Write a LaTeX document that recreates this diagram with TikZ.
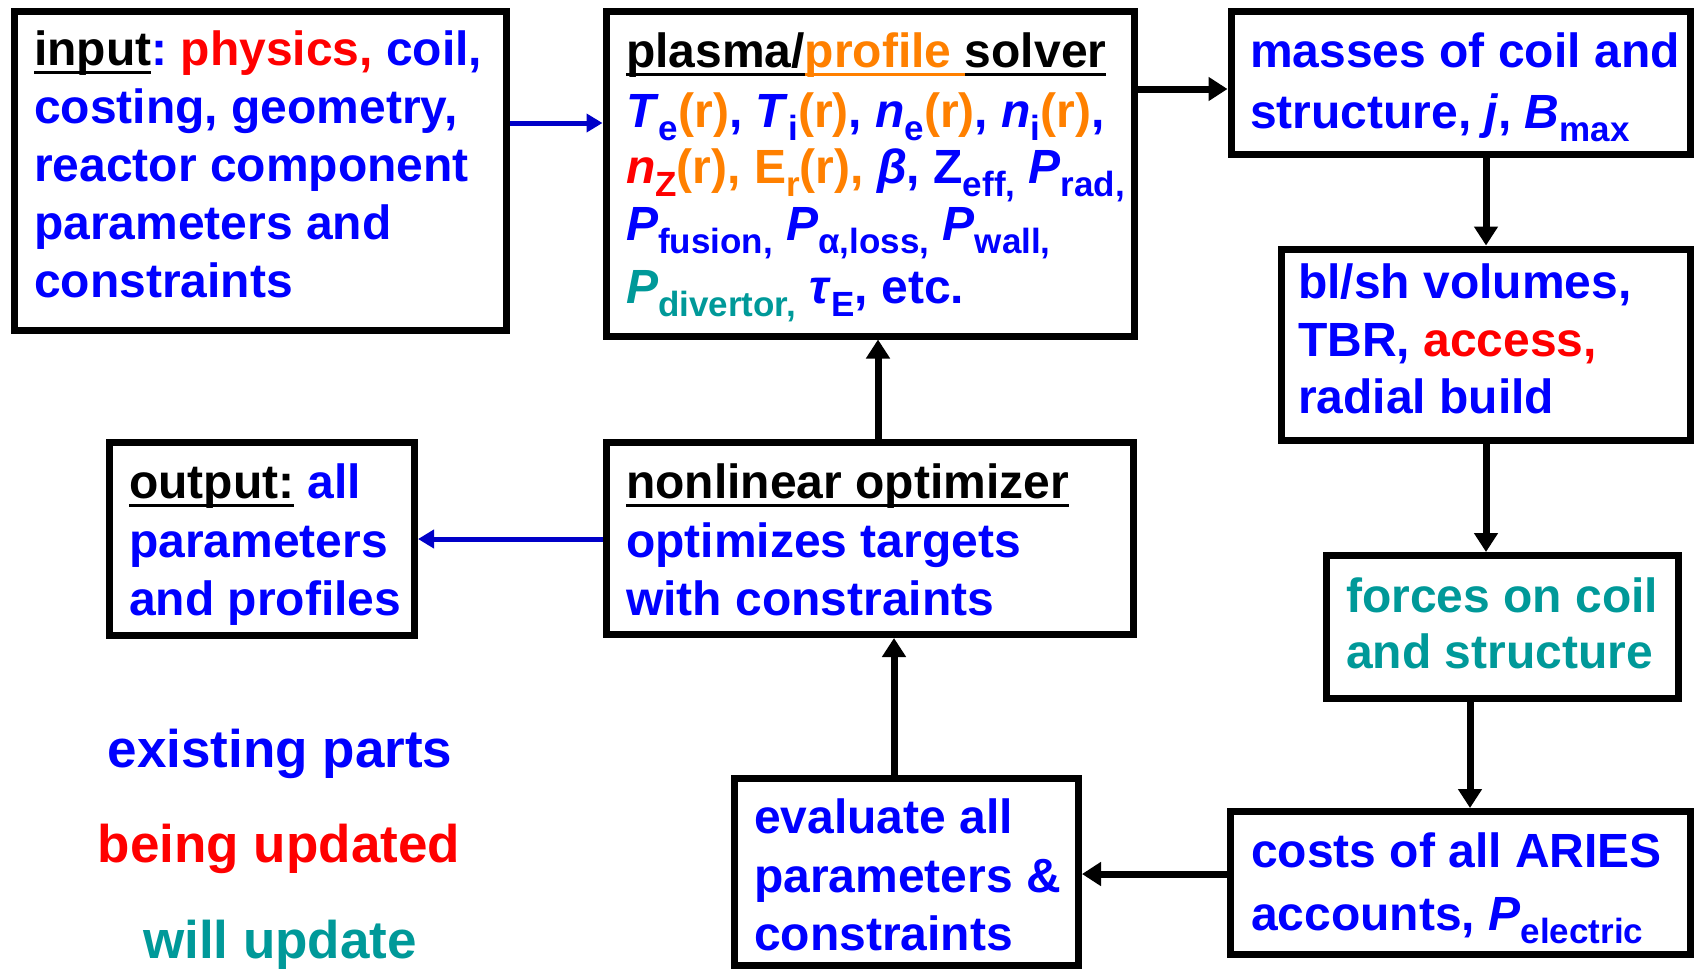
\documentclass[tikz,border=0pt]{standalone}
\usepackage{fontspec}
\setmainfont{Liberation Sans}
\usetikzlibrary{arrows.meta}
\definecolor{tblue}{RGB}{0,0,255}
\definecolor{tred}{RGB}{255,0,0}
\definecolor{torange}{RGB}{255,128,0}
\definecolor{tteal}{RGB}{0,153,153}
\definecolor{ablue}{RGB}{0,0,200}
\newcommand\sbs[1]{\raisebox{-13pt}{\fontsize{35}{35}\selectfont #1}}
\newcommand\ulin[1]{\setbox0\hbox{#1}\rlap{\rule[-9pt]{\wd0}{3.5pt}}\box0}
\tikzset{
  box/.style={draw=black, line width=7pt, inner sep=0pt},
  txt/.style={anchor=base west, inner sep=0pt, text=tblue, font=\fontsize{48}{58}\selectfont\bfseries},
  legend/.style={anchor=base, inner sep=0pt, font=\fontsize{53}{60}\selectfont\bfseries},
  karrow/.style={draw=black, line width=7pt, -{Triangle[length=19pt,width=23pt]}},
  barrow/.style={draw=ablue, line width=5pt, -{Triangle[length=16pt,width=18pt]}}
}
\begin{document}
\begin{tikzpicture}[x=1pt,y=-1pt]
\useasboundingbox (0,0) rectangle (1694,970);
% boxes
\node[box, minimum width=492pt, minimum height=319pt] (input) at (260,170.5) {};
\node[box, minimum width=528pt, minimum height=325pt] (plasma) at (870,173.5) {};
\node[box, minimum width=459.5pt, minimum height=143pt] (masses) at (1460.75,82.5) {};
\node[box, minimum width=409.5pt, minimum height=191pt] (blsh) at (1485.75,344.5) {};
\node[box, minimum width=352pt, minimum height=143pt] (forces) at (1502.5,627) {};
\node[box, minimum width=460pt, minimum height=143pt] (costs) at (1460.5,883) {};
\node[box, minimum width=344pt, minimum height=187pt] (evaluate) at (906.5,872) {};
\node[box, minimum width=527pt, minimum height=192pt] (nonlin) at (870,538.5) {};
\node[box, minimum width=305pt, minimum height=193pt] (output) at (262,539) {};
% input text
\node[txt] (in1) at (34,65) {\textcolor{black}{\ulin{input}}:~\textcolor{tred}{physics,} coil,};
\node[txt] (in2) at (34,123) {costing, geometry,};
\node[txt] (in3) at (34,181) {reactor component};
\node[txt] (in4) at (34,239) {parameters and};
\node[txt] (in5) at (34,297) {constraints};
% plasma text
\node[txt, text=black] (pl1) at (626,67) {\ulin{plasma/}\textcolor{torange}{\ulin{profile }}\ulin{solver}};
\node[txt] (pl2) at (626,127) {\textit{T}\sbs{e}\textcolor{torange}{(r)}, \textit{T}\sbs{i}\textcolor{torange}{(r)}, \textit{n}\sbs{e}\textcolor{torange}{(r)}, \textit{n}\sbs{i}\textcolor{torange}{(r)},};
\node[txt] (pl3) at (626,183) {\textcolor{tred}{\textit{n}\sbs{Z}}\textcolor{torange}{(r), E\sbs{r}(r),} \textit{β}, Z\sbs{eff,} \textit{P}\sbs{rad,}};
\node[txt] (pl4) at (626,240) {\textit{P}\sbs{fusion,} \textit{P}\sbs{α,loss,} \textit{P}\sbs{wall,}};
\node[txt] (pl5) at (626,303) {\textcolor{tteal}{\textit{P}\sbs{divertor,}} \textit{τ}\sbs{E}, etc.};
% masses text
\node[txt] (ma1) at (1250,67) {masses of coil and};
\node[txt] (ma2) at (1250,128) {structure, \textit{j}, \textit{B}\sbs{max}};
% bl/sh text
\node[txt] (bl1) at (1298,298) {bl/sh volumes,};
\node[txt] (bl2) at (1298,356) {TBR, \textcolor{tred}{access,}};
\node[txt] (bl3) at (1298,413) {radial build};
% forces text
\node[txt, text=tteal] (fo1) at (1346,612) {forces on coil};
\node[txt, text=tteal] (fo2) at (1346,668) {and structure};
% costs text
\node[txt] (co1) at (1251,867) {costs of all ARIES};
\node[txt] (co2) at (1251,930) {accounts, \textit{P}\sbs{electric}};
% evaluate text
\node[txt] (ev1) at (754,833) {evaluate all};
\node[txt] (ev2) at (754,892) {parameters \&};
\node[txt] (ev3) at (754,950) {constraints};
% nonlinear text
\node[txt, text=black] (nl1) at (626,498) {\ulin{nonlinear optimizer}};
\node[txt] (nl2) at (626,557) {optimizes targets};
\node[txt] (nl3) at (626,615) {with constraints};
% output text
\node[txt] (ou1) at (129,498) {\textcolor{black}{\ulin{output:}} all};
\node[txt] (ou2) at (129,557) {parameters};
\node[txt] (ou3) at (129,615) {and profiles};
% legend
\node[legend, text=tblue] (lg1) at (280,767) {existing parts};
\node[legend, text=tred] (lg2) at (279,862) {being updated};
\node[legend, text=tteal] (lg3) at (280,958) {will update};
% connector levels
\coordinate (yA) at (0,123);
\coordinate (yB) at (0,89);
\coordinate (xC) at (1486,0);
\coordinate (xD) at (1470,0);
\coordinate (yE) at (0,874);
\coordinate (xF) at (894,0);
\coordinate (xG) at (878,0);
\coordinate (yH) at (0,539);
% connectors
\draw[barrow] (input.east |- yA) -- (plasma.west |- yA);
\draw[karrow] (plasma.east |- yB) -- (masses.west |- yB);
\draw[karrow] (xC |- masses.south) -- (xC |- blsh.north);
\draw[karrow] (xC |- blsh.south) -- (xC |- forces.north);
\draw[karrow] (xD |- forces.south) -- (xD |- costs.north);
\draw[karrow] (costs.west |- yE) -- (evaluate.east |- yE);
\draw[karrow] (xF |- evaluate.north) -- (xF |- nonlin.south);
\draw[karrow] (xG |- nonlin.north) -- (xG |- plasma.south);
\draw[barrow] (nonlin.west |- yH) -- (output.east |- yH);
\end{tikzpicture}
\end{document}
